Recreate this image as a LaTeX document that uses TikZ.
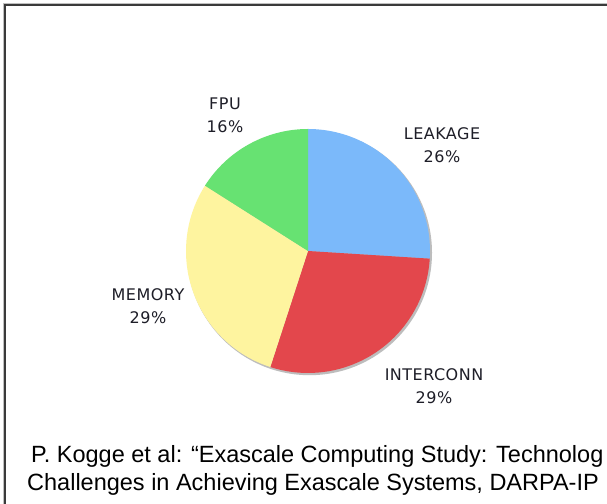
\documentclass[tikz,border=0pt]{standalone}
\usepackage{fontspec}
\newfontfamily\labfont[LetterSpace=3]{DejaVu Sans}
\newfontfamily\capfontx{Liberation Sans}
\definecolor{cleak}{HTML}{7BB9FA}
\definecolor{cinter}{HTML}{E3474C}
\definecolor{cmem}{HTML}{FEF49F}
\definecolor{cfpu}{HTML}{67E272}
\definecolor{cshadow}{HTML}{BDBDBD}
\definecolor{ctext}{HTML}{1E1E28}
\definecolor{cframe}{HTML}{3A3A3A}
\begin{document}
\begin{tikzpicture}[x=1pt,y=1pt,
  plabel/.style={font=\labfont\fontsize{16}{23}\selectfont, text=ctext, align=center, inner sep=0pt},
  captext/.style={font=\capfontx\fontsize{23.5}{28}\selectfont, text=black, anchor=base west, inner sep=0pt},
  slice/.style={draw=none}]
\useasboundingbox (0,0) rectangle (607,503);
\clip (0,0) rectangle (607,503);
\fill[white] (0,0) rectangle (607,503);
% frame
\draw[cframe, line width=1.6pt] (5,-2) -- (5,498) -- (612,498);
\draw[gray!50, line width=0.6pt] (3.6,-2) -- (3.6,499.4) -- (612,499.4);
% pie
\coordinate (c) at (308,252);
\fill[cshadow] (309.5,250.3) circle (122.5);
\fill[cleak]  (c) -- ++(90:122) arc[start angle=90, end angle=-3.6, radius=122] -- cycle;
\fill[cinter] (c) -- ++(-3.6:122) arc[start angle=-3.6, end angle=-108, radius=122] -- cycle;
\fill[cmem]   (c) -- ++(-108:122) arc[start angle=-108, end angle=-212.4, radius=122] -- cycle;
\fill[cfpu]   (c) -- ++(147.6:122) arc[start angle=147.6, end angle=90, radius=122] -- cycle;
% labels
\node[plabel] (fpu) at (225,388) {FPU\\16\%};
\node[plabel] (leak) at (442,358) {LEAKAGE\\26\%};
\node[plabel] (mem) at (148,197) {MEMORY\\29\%};
\node[plabel] (inter) at (434,117) {INTERCONN\\29\%};
% caption (as cut off at the right edge in the picture)
\node[captext] (cap1) at (31,40.7) {P. Kogge et al: “Exascale Computing Study: Technolog};
\node[captext] (cap2) at (27,12.3) {Challenges in Achieving Exascale Systems, DARPA-IP};
\end{tikzpicture}
\end{document}
